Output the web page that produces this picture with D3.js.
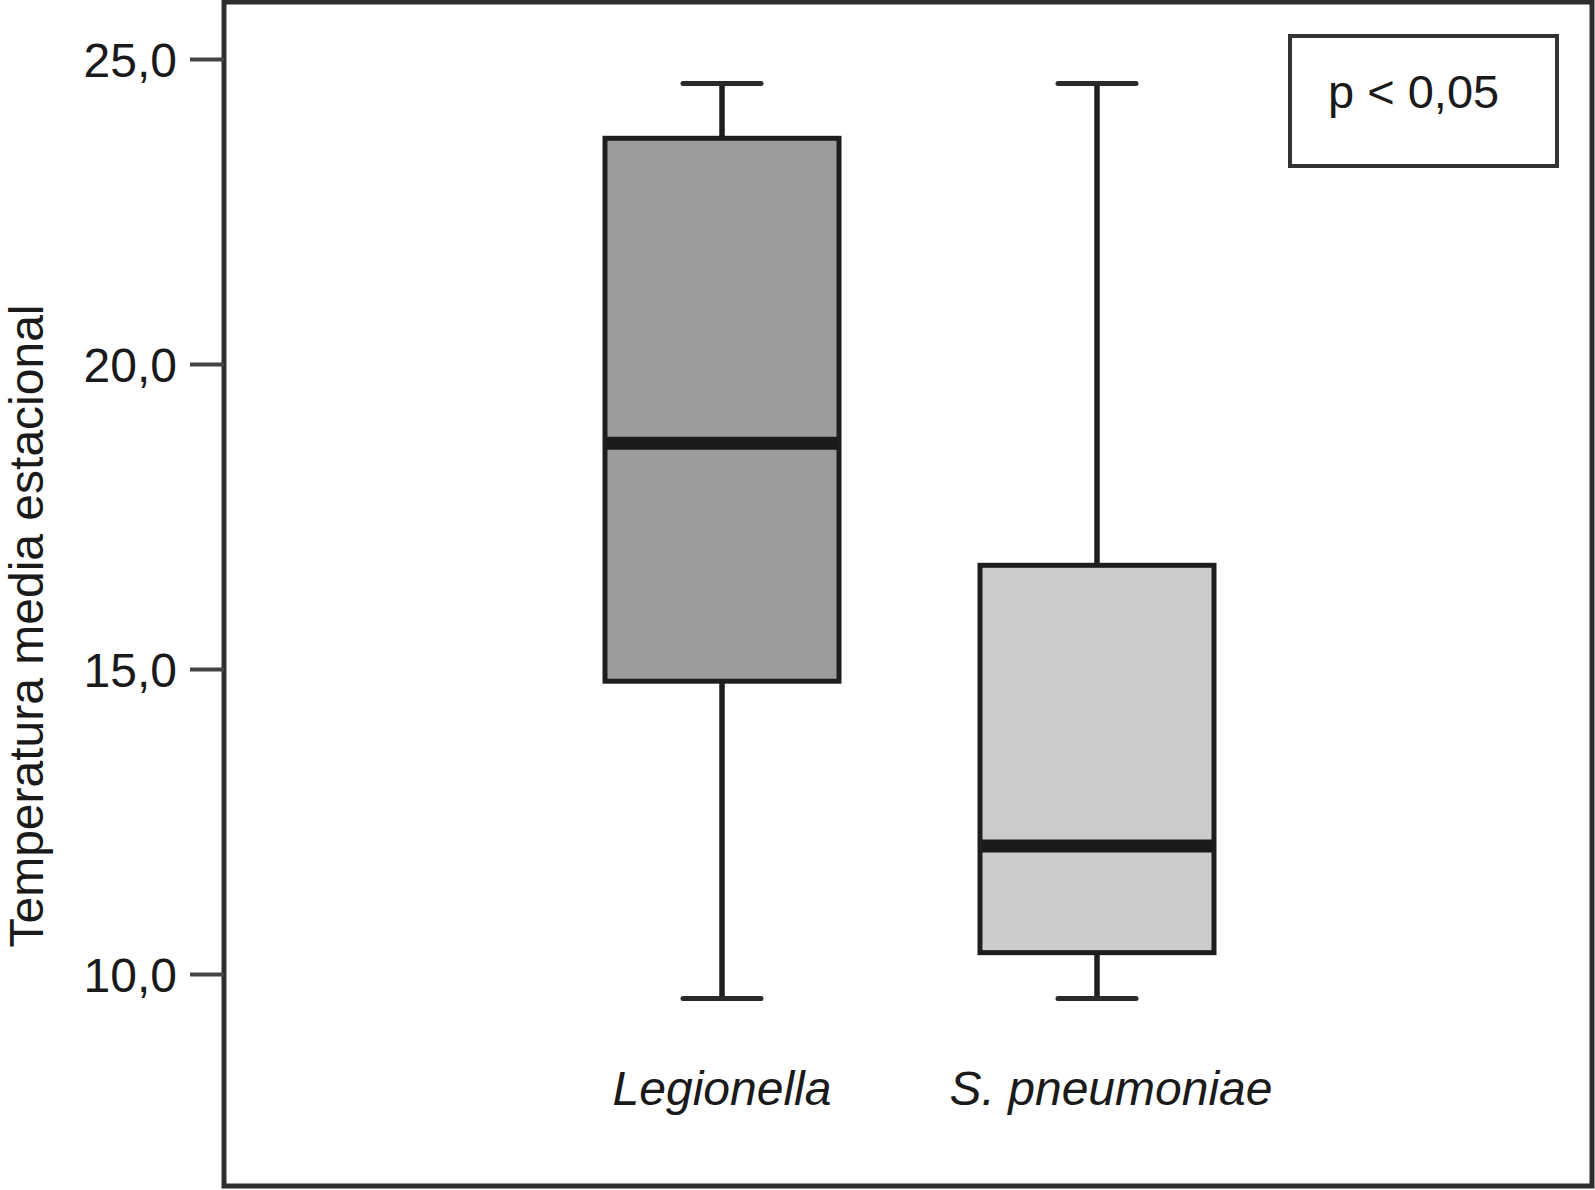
<!DOCTYPE html>
<html>
<head>
<meta charset="utf-8">
<script src="https://cdn.jsdelivr.net/npm/d3@7"></script>
<style>
  html, body { margin: 0; padding: 0; background: #fff; }
  svg { display: block; }
  text { font-family: "Liberation Sans", Arial, sans-serif; fill: #1a1a1a; }
</style>
</head>
<body>
<svg id="chart" width="1595" height="1190"></svg>
<script>
// Data
const categories = ["Legionella", "S. pneumoniae"];
const whiskerLow  = [9.6, 9.6];
const q1          = [14.8, 10.35];
const median      = [18.7, 12.1];
const q3          = [23.7, 16.7];
const whiskerHigh = [24.6, 24.6];
const fills       = ["#9b9c9e", "#cbcccd"];
const yTicks      = [10, 15, 20, 25];
const yTickLabels = ["10,0", "15,0", "20,0", "25,0"];
const yLabel = "Temperatura media estacional";
const pText = "p < 0,05";

const svg = d3.select("#chart");

const frame = { left: 224, top: 2, right: 1592, bottom: 1186 };

const y = d3.scaleLinear().domain([10, 25]).range([974, 59]);
const x = d3.scalePoint().domain(categories).range([722, 1097]).padding(0);
const boxW = 234;
const capW = 78;

// Frame
svg.append("rect")
  .attr("x", frame.left).attr("y", frame.top)
  .attr("width", frame.right - frame.left)
  .attr("height", frame.bottom - frame.top)
  .attr("fill", "none").attr("stroke", "#2e2e2e").attr("stroke-width", 5);

// Y axis
const yAxis = d3.axisLeft(y)
  .tickValues(yTicks)
  .tickFormat((d, i) => yTickLabels[i])
  .tickSize(34)
  .tickPadding(13);

const gy = svg.append("g").attr("transform", `translate(${frame.left},0)`).call(yAxis);
gy.select(".domain").remove();
gy.selectAll(".tick line").attr("stroke", "#444").attr("stroke-width", 4);
gy.selectAll(".tick text")
  .attr("font-size", 48)
  .attr("fill", "#1a1a1a")
  .attr("dy", "0.36em")
  .style("font-family", '"Liberation Sans", Arial, sans-serif');

// Y label
svg.append("text")
  .attr("transform", "translate(43,626) rotate(-90)")
  .attr("text-anchor", "middle")
  .attr("font-size", 48)
  .text(yLabel);

// Boxes
const cx = d => x(d);
const groups = svg.selectAll("g.box").data(categories).enter().append("g").attr("class", "box");

// whiskers
groups.append("line")
  .attr("x1", d => cx(d)).attr("x2", d => cx(d))
  .attr("y1", (d, i) => y(whiskerHigh[i])).attr("y2", (d, i) => y(q3[i]))
  .attr("stroke", "#1e1e1e").attr("stroke-width", 5.5);
groups.append("line")
  .attr("x1", d => cx(d)).attr("x2", d => cx(d))
  .attr("y1", (d, i) => y(q1[i])).attr("y2", (d, i) => y(whiskerLow[i]))
  .attr("stroke", "#1e1e1e").attr("stroke-width", 5.5);
// caps
groups.append("line")
  .attr("x1", d => cx(d) - capW / 2).attr("x2", d => cx(d) + capW / 2)
  .attr("y1", (d, i) => y(whiskerHigh[i])).attr("y2", (d, i) => y(whiskerHigh[i]))
  .attr("stroke", "#2a2a2a").attr("stroke-width", 5).attr("stroke-linecap", "round");
groups.append("line")
  .attr("x1", d => cx(d) - capW / 2).attr("x2", d => cx(d) + capW / 2)
  .attr("y1", (d, i) => y(whiskerLow[i])).attr("y2", (d, i) => y(whiskerLow[i]))
  .attr("stroke", "#2a2a2a").attr("stroke-width", 5).attr("stroke-linecap", "round");
// box
groups.append("rect")
  .attr("x", d => cx(d) - boxW / 2)
  .attr("y", (d, i) => y(q3[i]))
  .attr("width", boxW)
  .attr("height", (d, i) => y(q1[i]) - y(q3[i]))
  .attr("fill", (d, i) => fills[i])
  .attr("stroke", "#1e1e1e").attr("stroke-width", 5);
// median
groups.append("line")
  .attr("x1", d => cx(d) - boxW / 2 + 2).attr("x2", d => cx(d) + boxW / 2 - 2)
  .attr("y1", (d, i) => y(median[i])).attr("y2", (d, i) => y(median[i]))
  .attr("stroke", "#1a1a1a").attr("stroke-width", 13);

// X labels
svg.selectAll("text.xlab").data(categories).enter().append("text")
  .attr("class", "xlab")
  .attr("x", d => cx(d))
  .attr("dx", (d, i) => i * 14)
  .attr("y", 1105)
  .attr("text-anchor", "middle")
  .attr("font-size", 48)
  .attr("font-style", "italic")
  .text(d => d);

// p-value box
svg.append("rect")
  .attr("x", 1290).attr("y", 36).attr("width", 267).attr("height", 130)
  .attr("fill", "#fff").attr("stroke", "#333").attr("stroke-width", 4);
svg.append("text")
  .attr("x", 1328).attr("y", 108)
  .attr("font-size", 47)
  .text(pText);
</script>
</body>
</html>
